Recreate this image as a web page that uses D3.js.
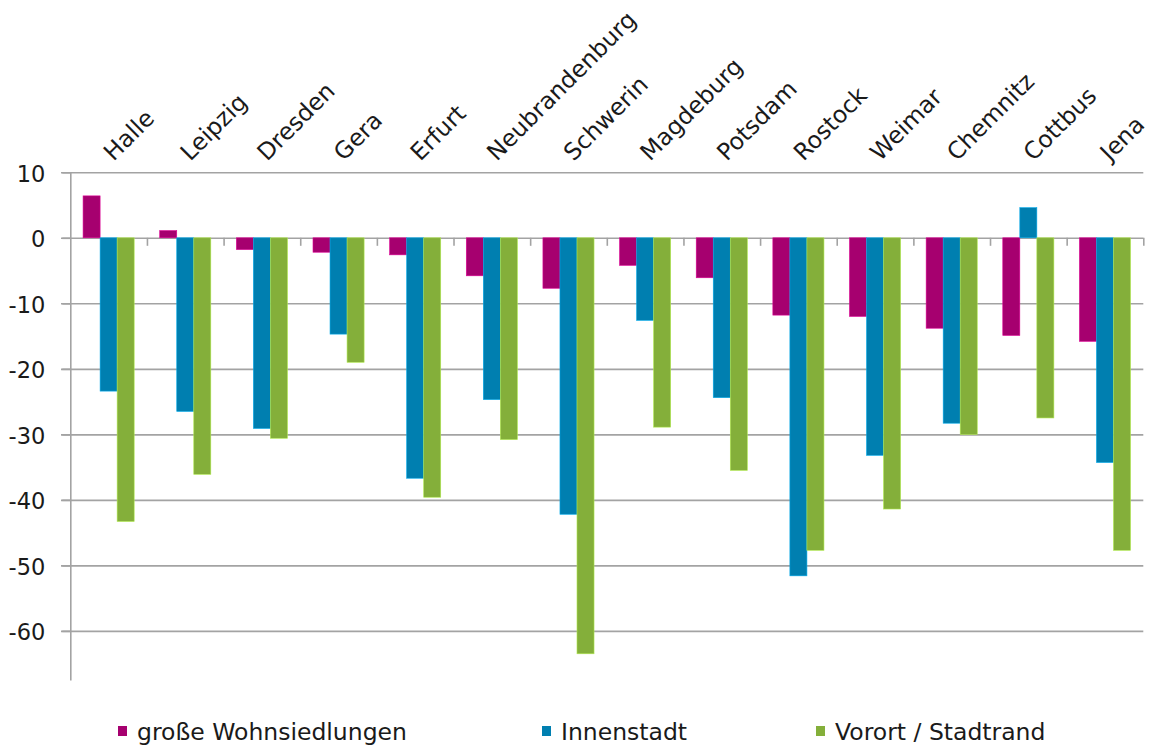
<!DOCTYPE html>
<html>
<head>
<meta charset="utf-8">
<script src="https://cdn.jsdelivr.net/npm/d3@7"></script>
<style>
  body { margin: 0; background: #fff; }
  text { font-family: "DejaVu Sans", Verdana, sans-serif; fill: #1a1a1a; }
</style>
</head>
<body>
<svg id="chart" width="1160" height="747"></svg>
<script>
const cities = ["Halle", "Leipzig", "Dresden", "Gera", "Erfurt", "Neubrandenburg", "Schwerin",
  "Magdeburg", "Potsdam", "Rostock", "Weimar", "Chemnitz", "Cottbus", "Jena"];
const seriesNames = ["große Wohnsiedlungen", "Innenstadt", "Vorort / Stadtrand"];
const grosseWohnsiedlungen = [6.4, 1.1, -1.8, -2.2, -2.6, -5.8, -7.7, -4.2, -6.1, -11.8, -12.0, -13.8, -14.9, -15.8];
const innenstadt = [-23.4, -26.5, -29.1, -14.7, -36.7, -24.7, -42.2, -12.6, -24.4, -51.6, -33.2, -28.3, 4.6, -34.3];
const vorortStadtrand = [-43.3, -36.1, -30.6, -19.0, -39.6, -30.8, -63.5, -28.9, -35.5, -47.7, -41.4, -30.0, -27.5, -47.7];
const yTicks = [10, 0, -10, -20, -30, -40, -50, -60];
const colors = ["#a6006f", "#007fb0", "#84af3a"];

const svg = d3.select("#chart");
const margin = { left: 70.3, right: 1143.3, top: 172.3, bottom: 680 };

// rows: one per city, values per series
const rows = cities.map((c, i) => ({
  city: c,
  values: [grosseWohnsiedlungen[i], innenstadt[i], vorortStadtrand[i]]
}));

const x = d3.scaleBand().domain(cities).range([margin.left, margin.right]).padding(0);
const bw = x.bandwidth();
const x1 = d3.scaleBand().domain(d3.range(3)).range([bw / 6, bw * 5 / 6]).padding(0);
const y = d3.scaleLinear().domain([-67.5, 10]).range([margin.bottom, margin.top]);

// gridlines
svg.append("g")
  .attr("transform", `translate(${margin.right},0)`)
  .call(d3.axisLeft(y).tickValues(yTicks).tickSize(margin.right - 61).tickFormat(""))
  .call(g => g.select(".domain").remove())
  .selectAll("line").attr("stroke", "#a3a3a3").attr("stroke-width", 1.6);

// y axis
const yAxis = svg.append("g")
  .attr("transform", `translate(${margin.left},0)`)
  .call(d3.axisLeft(y).tickValues(yTicks).tickSizeInner(8).tickSizeOuter(0)
    .tickPadding(17).tickFormat(d => String(d)));
yAxis.select(".domain").attr("stroke", "#a3a3a3").attr("stroke-width", 1.6);
yAxis.selectAll("line").attr("stroke", "#a3a3a3").attr("stroke-width", 1.6);
yAxis.selectAll("text").attr("font-size", 22.5).attr("dy", "0.4em")
  .style("font-family", "DejaVu Sans, sans-serif").attr("fill", "#1a1a1a");

// bars
svg.append("g").selectAll("g")
  .data(rows)
  .join("g")
  .attr("transform", d => `translate(${x(d.city)},0)`)
  .selectAll("rect")
  .data(d => d.values.map((v, k) => ({ k, v })))
  .join("rect")
  .attr("x", d => x1(d.k))
  .attr("width", x1.bandwidth())
  .attr("y", d => y(Math.max(0, d.v)))
  .attr("height", d => Math.abs(y(d.v) - y(0)))
  .attr("fill", d => colors[d.k])
  .attr("stroke", d => d3.color(colors[d.k]).brighter(0.8))
  .attr("stroke-width", 0.6);

// category axis along zero line
const xb = d3.scaleLinear().domain([0, cities.length]).range([margin.left, margin.right]);
const xAxis = svg.append("g")
  .attr("transform", `translate(0,${y(0)})`)
  .call(d3.axisBottom(xb).tickValues(d3.range(1, cities.length + 1)).tickSize(8).tickFormat(""));
xAxis.select(".domain").remove();
xAxis.selectAll("line").attr("stroke", "#a3a3a3").attr("stroke-width", 1.6);

// rotated city labels
svg.append("g").selectAll("text")
  .data(cities)
  .join("text")
  .attr("transform", d => `translate(${x(d) + bw / 2 + 5},162) rotate(-45)`)
  .attr("font-size", 23.5)
  .text(d => d);

// legend
const legendX = [118, 542, 816];
const legend = svg.append("g").selectAll("g")
  .data(seriesNames)
  .join("g")
  .attr("transform", (d, i) => `translate(${legendX[i]},726)`);
legend.append("rect").attr("width", 9).attr("height", 10).attr("fill", (d, i) => colors[i]);
legend.append("text").attr("x", 19).attr("y", 14).attr("font-size", 23.5).text(d => d);
</script>
</body>
</html>
